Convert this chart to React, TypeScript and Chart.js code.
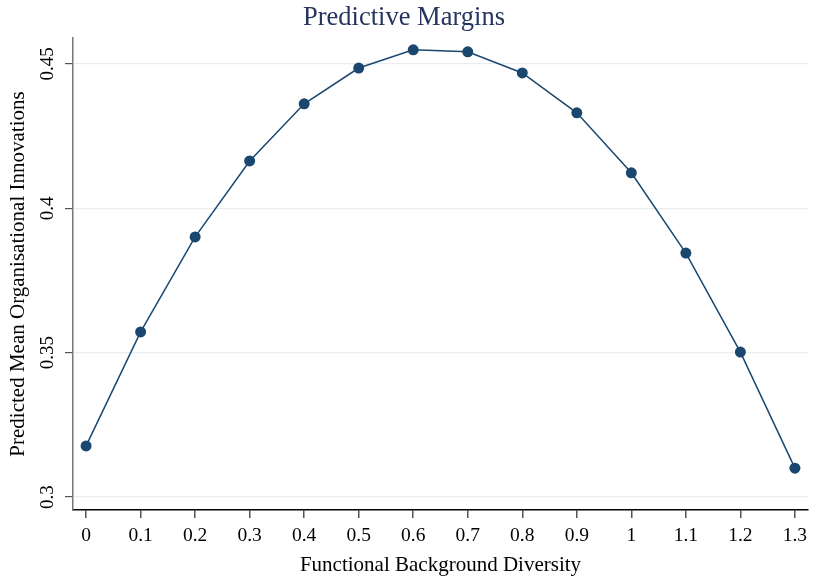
import React, { useEffect, useRef } from "react";
import { Chart, registerables } from "chart.js";

Chart.register(...registerables);

const xValues = [0, 0.1, 0.2, 0.3, 0.4, 0.5, 0.6, 0.7, 0.8, 0.9, 1.0, 1.1, 1.2, 1.3];
const yValues = [0.3177, 0.3572, 0.3901, 0.4164, 0.4362, 0.4486, 0.4549, 0.4542, 0.4469, 0.4331, 0.4123, 0.3845, 0.3502, 0.3100];
const xTicks = [0, 0.1, 0.2, 0.3, 0.4, 0.5, 0.6, 0.7, 0.8, 0.9, 1, 1.1, 1.2, 1.3];
const xTickLabels = ["0", "0.1", "0.2", "0.3", "0.4", "0.5", "0.6", "0.7", "0.8", "0.9", "1", "1.1", "1.2", "1.3"];
const yTicks = [0.3, 0.35, 0.4, 0.45];
const yTickLabels = ["0.3", "0.35", "0.4", "0.45"];

const FONT = "'Liberation Serif', 'Times New Roman', serif";
const NAVY = "#1a476f";

const rotatedYLabels = {
  id: "rotatedYLabels",
  afterDraw(chart: any) {
    const ctx = chart.ctx;
    const ys = chart.scales.y;
    ctx.save();
    ctx.fillStyle = "#000";
    ctx.font = `19px ${FONT}`;
    ctx.textAlign = "center";
    ctx.textBaseline = "middle";
    yTicks.forEach((v, i) => {
      const py = ys.getPixelForValue(v);
      ctx.save();
      ctx.translate(48, py);
      ctx.rotate(-Math.PI / 2);
      ctx.fillText(yTickLabels[i], 0, 0);
      ctx.restore();
    });
    ctx.restore();
  },
};

export default function App() {
  const ref = useRef<HTMLCanvasElement | null>(null);
  useEffect(() => {
    if (!ref.current) return;
    Chart.defaults.font.family = FONT;
    const chart = new Chart(ref.current, {
      type: "line",
      data: {
        datasets: [
          {
            data: xValues.map((x, i) => ({ x, y: yValues[i] })),
            borderColor: NAVY,
            backgroundColor: NAVY,
            pointBackgroundColor: NAVY,
            pointBorderColor: NAVY,
            borderWidth: 1.5,
            pointRadius: 5.5,
            pointBorderWidth: 0,
            tension: 0,
            fill: false,
          },
        ],
      },
      options: {
        responsive: false,
        animation: false,
        layout: { padding: { left: 0, right: 6, top: 0, bottom: 0 } },
        plugins: {
          legend: { display: false },
          tooltip: { enabled: false },
          title: {
            display: true,
            text: "Predictive Margins",
            color: "#25355f",
            font: { size: 26.5, weight: "normal", family: FONT },
            padding: { top: 2.6, bottom: 3.6 },
          },
        },
        scales: {
          x: {
            type: "linear",
            min: -0.024,
            max: 1.324,
            afterBuildTicks: (s: any) => {
              s.ticks = xTicks.map((v) => ({ value: v }));
            },
            afterFit: (s: any) => {
              s.height = 68;
            },
            ticks: {
              color: "#000",
              font: { size: 19.5, family: FONT },
              padding: 6.5,
              maxRotation: 0,
              autoSkip: false,
              callback: (v: any) => {
                const i = xTicks.findIndex((t) => Math.abs(t - v) < 1e-9);
                return i >= 0 ? xTickLabels[i] : "";
              },
            },
            grid: { drawOnChartArea: false, tickLength: 8, tickColor: "#555", lineWidth: 1.5 },
            border: { color: "#000", width: 1.5 },
            title: {
              display: true,
              text: "Functional Background Diversity",
              color: "#000",
              font: { size: 21, family: FONT },
              padding: { top: 0, bottom: 0 },
            },
          },
          y: {
            type: "linear",
            min: 0.2955,
            max: 0.459,
            afterBuildTicks: (s: any) => {
              s.ticks = yTicks.map((v) => ({ value: v }));
            },
            afterFit: (s: any) => {
              s.width = 73;
            },
            ticks: { display: false },
            grid: { color: "#e6eef2", lineWidth: 1.2, tickLength: 8, tickColor: "#555" },
            border: { color: "#777", width: 1.5 },
            title: {
              display: true,
              text: "Predicted Mean Organisational Innovations",
              color: "#000",
              font: { size: 21, family: FONT },
              padding: { top: 5.4, bottom: 0 },
            },
          },
        },
      },
      plugins: [rotatedYLabels],
    });
    return () => chart.destroy();
  }, []);
  return (
    <div style={{ position: "fixed", left: 0, top: 0, width: 814, height: 578, background: "#fff" }}>
      <canvas ref={ref} width={814} height={578} />
    </div>
  );
}
